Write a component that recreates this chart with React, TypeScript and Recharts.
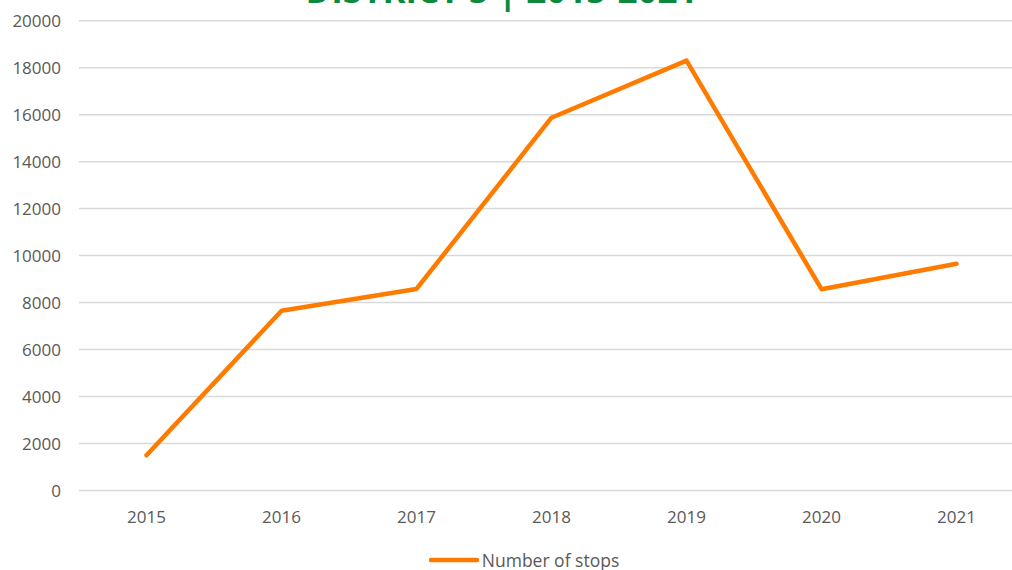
import { CartesianGrid, Legend, Line, LineChart, XAxis, YAxis } from "recharts"

const years = ["2015", "2016", "2017", "2018", "2019", "2020", "2021"]
const stops = [1500, 7650, 8580, 15870, 18300, 8570, 9650]
const yTicks = [0, 2000, 4000, 6000, 8000, 10000, 12000, 14000, 16000, 18000, 20000]

const title = "DISTRICT 5 | 2015-2021"
const seriesName = "Number of stops"

const data = years.map((year, i) => ({ year, stops: stops[i] }))

const FONT = "'Open Sans', sans-serif"
const GREY = "#595959"
const ORANGE = "#FF7B00"

const StopsLegend = () => (
  <div
    style={{
      display: "flex",
      justifyContent: "center",
      alignItems: "center",
      fontFamily: FONT,
      fontSize: 17.5,
      lineHeight: "20px",
      height: 20,
      color: GREY,
      marginLeft: 36,
    }}
  >
    <svg width={50} height={10} style={{ marginRight: 3 }}>
      <line
        x1={2}
        y1={5}
        x2={48}
        y2={5}
        stroke={ORANGE}
        strokeWidth={4.5}
        strokeLinecap="round"
      />
    </svg>
    <span>{seriesName}</span>
  </div>
)

export default function App() {
  return (
    <div
      style={{
        position: "fixed",
        left: 0,
        top: 0,
        width: 1012,
        height: 570,
        overflow: "hidden",
        background: "#fff",
      }}
    >
      <div
        style={{
          position: "absolute",
          left: 0,
          width: 1003,
          top: -30,
          textAlign: "center",
          fontFamily: FONT,
          fontWeight: 700,
          fontSize: 35,
          lineHeight: "40px",
          color: "#0B8A3E",
          whiteSpace: "nowrap",
        }}
      >
        {title}
      </div>
      <LineChart
        width={1030}
        height={570}
        data={data}
        margin={{ top: 20.7, right: 6, bottom: 29.5, left: 0 }}
      >
        <CartesianGrid vertical={false} stroke="#D9D9D9" strokeWidth={1.5} />
        <XAxis
          dataKey="year"
          axisLine={false}
          tickLine={false}
          tickSize={6}
          tickMargin={14}
          height={30}
          padding={{ left: 67.5, right: 67.5 }}
          tick={{ fill: GREY, fontSize: 17, fontFamily: FONT }}
        />
        <YAxis
          width={79}
          domain={[0, 20000]}
          ticks={yTicks}
          interval={0}
          axisLine={false}
          tickLine={false}
          tickSize={6}
          tickMargin={12}
          tick={{ fill: GREY, fontSize: 17, fontFamily: FONT }}
        />
        <Legend
          verticalAlign="bottom"
          content={<StopsLegend />}
          wrapperStyle={{ top: 550, left: 0, width: 1012, height: 20 }}
        />
        <Line
          type="linear"
          dataKey="stops"
          name={seriesName}
          stroke={ORANGE}
          strokeWidth={4.5}
          strokeLinecap="round"
          strokeLinejoin="round"
          dot={false}
          activeDot={false}
          isAnimationActive={false}
        />
      </LineChart>
    </div>
  )
}
